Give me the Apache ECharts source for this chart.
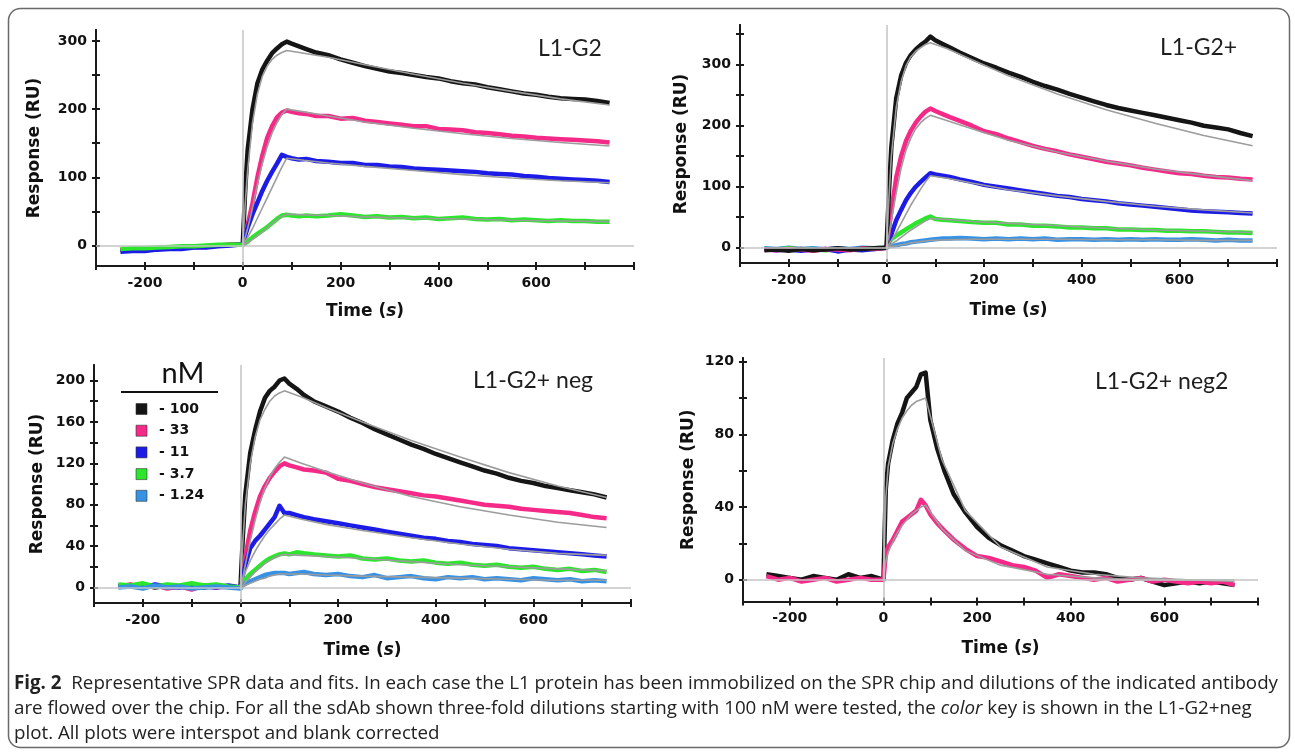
<!DOCTYPE html>
<html lang="en">
<head>
<meta charset="UTF-8">
<title>SPR sensorgrams</title>
<script src="https://cdn.jsdelivr.net/npm/echarts@6/dist/echarts.min.js"></script>
<style>
  html, body { margin: 0; padding: 0; background: #fff; }
  #main { width: 1295px; height: 756px; }
</style>
</head>
<body>
<div id="main"></div>
<script>
// time grid of the measured traces (s) and of the fitted curves
var T = [-250,-225,-200,-175,-150,-125,-100,-75,-50,-25,
         0,5,10,20,30,40,50,60,70,80,90,
         100,115,130,
         150,175,200,225,250,275,300,325,350,375,400,425,450,475,500,525,550,575,600,625,650,675,700,725,750];
var TF = [0,5,10,20,30,40,50,60,70,80,90,125,175,250,350,450,550,650,750];

var timeTicks = [-300,-200,-100,0,100,200,300,400,500,600,700,800];
var timeLabels = [-200,0,200,400,600];

// L1-G2
var l1g2_100 = [-7,-6,-6,-4,-4,-3,-2,-1,0,1, 1,80,140,200,238,258,271,282,289,295,299, 296,292,288,
  283,279,273,268,263,259,255,253,250,247,245,241,238,236,232,229,226,223,221,218,216,215,214,212,209];
var l1g2_33 = [-6,-5,-6,-4,-3,-3,-2,-2,0,1, 1,15,30,62,100,132,158,175,188,195,198, 196,194,193,
  190,190,186,187,183,181,179,177,175,175,171,170,169,166,165,163,161,160,158,157,156,155,154,153,151];
var l1g2_11 = [-9,-8,-8,-6,-5,-5,-3,-3,-1,0, 2,15,26,46,63,80,95,108,120,133,130, 128,126,127,
  124,123,121,121,118,118,116,115,113,112,111,110,109,108,106,105,104,102,101,99,98,97,96,95,93];
var l1g2_3_7 = [-5,-4,-4,-3,-2,-1,-1,0,1,1, 1,3,6,12,17,22,27,33,39,44,45, 44,43,44,
  43,44,46,44,42,43,41,42,40,41,39,40,41,39,38,39,37,38,37,36,37,36,36,35,35];
var l1g2_100_fit = [0,60,110,180,222,248,263,273,279,283,286,282,276,265,251,238,226,215,206];
var l1g2_33_fit = [0,12,25,55,90,120,145,165,180,192,200,196,190,181,172,164,157,151,146];
var l1g2_11_fit = [0,6,12,25,40,55,70,85,100,115,128,125,121,116,110,104,99,95,92];
var l1g2_3_7_fit = [0,2,4,9,14,20,26,32,38,43,46,45,44,42,40,39,37,36,35];

// L1-G2+
var l1g2p_100 = [-4,-3,-5,-2,-4,-3,-1,-3,-2,-1, 0,90,165,245,282,303,316,325,332,338,346, 340,334,328,
  320,311,302,295,287,280,272,265,259,252,246,240,234,229,225,221,217,213,209,205,200,197,194,188,183];
var l1g2p_33 = [-3,-4,-2,-3,-5,-2,-3,-4,-1,-2, 0,30,60,115,150,175,192,205,215,223,228, 224,219,214,
  208,200,191,186,179,173,167,162,158,153,149,145,141,138,135,131,128,125,122,121,118,116,115,113,112];
var l1g2p_11 = [-2,-4,-3,-5,-3,-2,-6,-3,-4,-2, 0,10,22,45,62,78,90,100,108,115,122, 120,118,116,
  112,108,103,100,97,94,91,88,85,83,80,78,76,73,71,69,67,65,63,61,60,59,58,57,56];
var l1g2p_3_7 = [-2,-3,-1,-3,-2,-4,-2,-3,-2,-1, 0,8,14,20,25,30,35,40,44,48,51, 47,46,45,
  44,42,41,41,38,38,36,36,35,33,33,32,32,30,30,29,29,28,28,27,27,26,25,25,24];
var l1g2p_1_24 = [-1,-2,0,-2,-1,-3,-1,-2,0,-1, 0,2,3,4,6,7,9,10,11,12,13, 14,15,15,
  16,15,14,15,14,15,14,15,13,14,14,13,14,13,14,13,14,13,13,14,13,12,13,12,12];
var l1g2p_100_fit = [0,80,150,230,272,298,313,322,328,333,336,326,308,282,252,226,204,184,167];
var l1g2p_33_fit = [0,20,45,90,130,160,180,195,205,212,217,208,195,176,157,142,129,119,110];
var l1g2p_11_fit = [0,6,12,25,40,55,70,83,96,108,118,114,106,95,85,76,68,62,57];
var l1g2p_3_7_fit = [0,3,6,11,17,23,29,34,39,44,48,46,43,40,36,32,29,27,25];
var l1g2p_1_24_fit = [0,1,2,3,5,6,8,9,10,11,12,13,14,14,14,13,13,12,12];

// L1-G2+ neg
var neg_100 = [2,1,3,0,2,1,3,0,2,1, 0,50,90,130,152,170,183,190,194,200,202, 197,192,186,
  180,175,170,164,159,153,148,143,138,134,129,125,121,117,113,110,106,103,101,98,96,94,92,90,87];
var neg_33 = [1,3,0,2,-1,1,-2,2,0,1, 0,15,30,55,73,88,98,106,112,117,120, 118,116,114,
  113,111,105,103,100,97,95,93,91,89,88,86,84,82,80,79,78,76,75,74,73,72,70,68,67];
var neg_11 = [1,2,0,3,1,0,2,1,0,2, 0,12,22,38,45,50,56,62,68,79,72, 72,70,68,
  66,64,62,60,58,56,54,52,50,48,47,45,44,42,41,40,38,37,36,35,34,33,32,31,30];
var neg_3_7 = [3,2,4,1,3,2,4,2,3,1, 0,4,8,13,17,21,25,28,30,32,33, 32,34,33,
  32,31,30,31,28,27,28,26,25,26,24,23,24,22,21,22,20,19,20,18,17,18,16,17,15];
var neg_1_24 = [0,1,-1,2,0,1,-1,0,1,0, -1,2,4,6,8,10,12,13,14,14,14, 13,14,15,
  13,12,13,11,10,12,9,10,11,9,8,10,9,10,8,9,8,7,9,8,7,8,6,7,6];
var neg_100_fit = [0,45,80,120,145,162,172,180,185,188,190,184,174,160,142,126,111,98,87];
var neg_33_fit = [0,10,22,45,65,82,96,107,115,121,126,120,112,101,88,78,70,63,58];
var neg_11_fit = [0,8,15,26,35,43,50,56,61,66,70,66,61,55,48,42,37,33,31];
var neg_3_7_fit = [0,2,5,10,15,19,23,26,29,31,32,31,30,28,25,22,20,18,16];
var neg_1_24_fit = [0,1,2,4,6,8,9,11,12,13,13,13,12,11,10,9,8,7,7];

// L1-G2+ neg2
var neg2_100 = [3,2,1,0,2,1,0,3,1,2, 0,50,64,77,86,92,100,103,106,113,114, 88,72,60,
  47,37,29,23,19,16,13,11,9,7,5,4,4,3,1,0,1,-1,-3,-2,-1,-2,-1,-2,-3];
var neg2_33 = [2,0,1,-1,0,1,-1,0,1,0, 0,14,18,22,27,32,34,36,38,44,41, 36,31,27,
  22,17,13,12,10,8,7,5,1,3,2,1,0,1,-1,0,1,-1,0,-1,-2,-1,-2,-1,-3];
var neg2_100_fit = [0,45,62,75,83,89,93,96,98,99,100,66,38,18,7,3,1,0,0];
var neg2_33_fit = [0,10,15,21,26,30,33,36,38,40,41,28,16,8,3,1,0,0,-1];

// y ticks / labels of the four panels
var p1Ticks = [0,50,100,150,200,250,300], p1Labels = [0,100,200,300];
var p2Ticks = [0,50,100,150,200,250,300,350], p2Labels = [0,100,200,300];
var p3Ticks = [0,20,40,60,80,100,120,140,160,180,200], p3Labels = [0,40,80,120,160,200];
var p4Ticks = [0,20,40,60,80,100,120], p4Labels = [0,40,80,120];

var concentrations = ['100', '33', '11', '3.7', '1.24'];
var colors = {'100': '#151515', '33': '#f52a88', '11': '#1c1ce6', '3.7': '#2ce62c', '1.24': '#3792e6'};

var panels = [
  {title: 'L1-G2', tx: 538, ty: 49, grid: {left: 96, top: 30, width: 538, height: 236},
   yMin: -30, yMax: 316, ticks: p1Ticks, labels: p1Labels, yGap: 53, xGap: 37,
   curves: [['100', l1g2_100, l1g2_100_fit], ['33', l1g2_33, l1g2_33_fit], ['11', l1g2_11, l1g2_11_fit], ['3.7', l1g2_3_7, l1g2_3_7_fit]]},
  {title: 'L1-G2+', tx: 1160, ty: 48, grid: {left: 740, top: 25, width: 537, height: 238},
   yMin: -25, yMax: 365, ticks: p2Ticks, labels: p2Labels, yGap: 50, xGap: 39,
   curves: [['1.24', l1g2p_1_24, l1g2p_1_24_fit], ['3.7', l1g2p_3_7, l1g2p_3_7_fit], ['11', l1g2p_11, l1g2p_11_fit], ['33', l1g2p_33, l1g2p_33_fit], ['100', l1g2p_100, l1g2p_100_fit]]},
  {title: 'L1-G2+ neg', tx: 473, ty: 381, grid: {left: 94, top: 365, width: 537, height: 238},
   yMin: -15, yMax: 215, ticks: p3Ticks, labels: p3Labels, yGap: 48, xGap: 39,
   curves: [['100', neg_100, neg_100_fit], ['33', neg_33, neg_33_fit], ['11', neg_11, neg_11_fit], ['3.7', neg_3_7, neg_3_7_fit], ['1.24', neg_1_24, neg_1_24_fit]]},
  {title: 'L1-G2+ neg2', tx: 1095, ty: 382, grid: {left: 743, top: 358, width: 515, height: 243.5},
   yMin: -12, yMax: 122, ticks: p4Ticks, labels: p4Labels, yGap: 46, xGap: 39,
   curves: [['100', neg2_100, neg2_100_fit], ['33', neg2_33, neg2_33_fit]]}
];

function toXY(t, v) {
  var out = [];
  for (var i = 0; i < t.length; i++) out.push([t[i], v[i]]);
  return out;
}

var axisColor = '#1a1a1a';
var labelFont = {color: '#111', fontFamily: 'DejaVu Sans', fontWeight: 'bold', fontSize: 14};
var nameFont = {fontFamily: 'DejaVu Sans', fontWeight: 'bold', fontSize: 17, color: '#111'};

var grids = [], xAxes = [], yAxes = [], series = [], graphics = [];

panels.forEach(function (p, i) {
  grids.push(p.grid);
  var lineSt = {color: axisColor, width: 2};
  // outer ticks + labels
  xAxes.push({
    type: 'value', gridIndex: i, min: -300, max: 800, position: 'bottom',
    axisLine: {onZero: false, lineStyle: lineSt},
    axisTick: {customValues: timeTicks, length: 4, lineStyle: lineSt},
    axisLabel: Object.assign({customValues: timeLabels, margin: 10}, labelFont),
    splitLine: {show: false},
    name: '{a|Time (}{b|s}{a|)}', nameLocation: 'middle', nameGap: p.xGap,
    nameTextStyle: {rich: {a: nameFont, b: Object.assign({fontStyle: 'italic'}, nameFont)}}
  });
  // inner ticks so they cross the axis line
  xAxes.push({
    type: 'value', gridIndex: i, min: -300, max: 800, position: 'bottom',
    axisLine: {onZero: false, lineStyle: lineSt},
    axisTick: {inside: true, customValues: timeTicks, length: 4, lineStyle: lineSt},
    axisLabel: {show: false}, splitLine: {show: false}
  });
  yAxes.push({
    type: 'value', gridIndex: i, min: p.yMin, max: p.yMax, position: 'left',
    axisLine: {onZero: false, lineStyle: lineSt},
    axisTick: {customValues: p.ticks, length: 4, lineStyle: lineSt},
    axisLabel: Object.assign({customValues: p.labels, margin: 9}, labelFont),
    splitLine: {show: false},
    name: 'Response (RU)', nameLocation: 'middle', nameGap: p.yGap, nameTextStyle: nameFont
  });
  yAxes.push({
    type: 'value', gridIndex: i, min: p.yMin, max: p.yMax, position: 'left',
    axisLine: {onZero: false, lineStyle: lineSt},
    axisTick: {inside: true, customValues: p.ticks, length: 4, lineStyle: lineSt},
    axisLabel: {show: false}, splitLine: {show: false}
  });

  // gray zero lines
  series.push({
    type: 'line', xAxisIndex: 2 * i, yAxisIndex: 2 * i, data: [[0, 0]], showSymbol: false, z: 1,
    lineStyle: {opacity: 0},
    markLine: {silent: true, symbol: 'none', label: {show: false},
      lineStyle: {color: '#c4c4c4', width: 1.5, type: 'solid'},
      data: [{xAxis: 0}, {yAxis: 0}]}
  });
  p.curves.forEach(function (c) {
    series.push({
      type: 'line', name: c[0] + ' nM', xAxisIndex: 2 * i, yAxisIndex: 2 * i,
      data: toXY(T, c[1]), showSymbol: false, z: 2,
      lineStyle: {color: colors[c[0]], width: 4.5, join: 'round'}
    });
  });
  p.curves.forEach(function (c) {
    series.push({
      type: 'line', xAxisIndex: 2 * i, yAxisIndex: 2 * i,
      data: toXY(TF, c[2]), showSymbol: false, z: 3,
      lineStyle: {color: '#9c9c9c', width: 1.6}
    });
  });

  graphics.push({
    type: 'text', x: p.tx, y: p.ty,
    style: {text: p.title, fontFamily: 'Lato', fontSize: 23, fill: '#1e1e1e', align: 'left', verticalAlign: 'middle'}
  });
});

// concentration key (L1-G2+ neg panel)
graphics.push({type: 'text', x: 183, y: 374,
  style: {text: 'nM', fontFamily: 'Lato', fontSize: 29, fill: '#111', align: 'center', verticalAlign: 'middle'}});
graphics.push({type: 'line', shape: {x1: 121, y1: 392, x2: 218, y2: 392}, style: {stroke: '#111', lineWidth: 2}});
concentrations.forEach(function (c, k) {
  var y = 409 + k * 21.7;
  graphics.push({type: 'rect', shape: {x: 136, y: y - 5.5, width: 11, height: 11},
    style: {fill: colors[c], stroke: '#333', lineWidth: 0.6}});
  graphics.push({type: 'text', x: 159, y: y,
    style: {text: '- ' + c, fontFamily: 'DejaVu Sans', fontWeight: 'bold', fontSize: 14, fill: '#111', verticalAlign: 'middle'}});
});

// frame
graphics.push({type: 'rect', shape: {x: 8.5, y: 8.5, width: 1281, height: 739, r: 12},
  style: {fill: 'none', stroke: '#6a6a6a', lineWidth: 1.5}, z: -1});

// caption
var cap1 = '  Representative SPR data and fits. In each case the L1 protein has been immobilized on the SPR chip and dilutions of the indicated antibody';
var cap2a = 'are flowed over the chip. For all the sdAb shown three-fold dilutions starting with 100 nM were tested, the ';
var cap2b = ' key is shown in the L1-G2+neg';
var cap3 = 'plot. All plots were interspot and blank corrected';
var capFamily = '"Open Sans"';
var capSize = 19;
var ctx = document.createElement('canvas').getContext('2d');
function textW(str, font) { ctx.font = font; return ctx.measureText(str).width; }
var w1 = textW('Fig. 2', 'bold ' + capSize + 'px ' + capFamily) + textW(cap1, capSize + 'px ' + capFamily);
var capScale = 1264 / w1;
var capRich = {b: {fontWeight: 'bold', fontFamily: 'Open Sans', fontSize: capSize, fill: '#222'},
               i: {fontStyle: 'italic', fontFamily: 'Open Sans', fontSize: capSize, fill: '#222'}};
[['{b|Fig. 2}' + cap1, 684], [cap2a + '{i|color}' + cap2b, 709], [cap3, 734]].forEach(function (l) {
  graphics.push({type: 'text', x: 14, y: l[1], scaleX: capScale,
    style: {text: l[0], rich: capRich, fontFamily: 'Open Sans', fontSize: capSize, fill: '#222', verticalAlign: 'middle'}});
});

var myChart = echarts.init(document.getElementById('main'));
var option = {
  animation: false,
  backgroundColor: '#fff',
  grid: grids,
  xAxis: xAxes,
  yAxis: yAxes,
  series: series,
  graphic: graphics
};
myChart.setOption(option);
</script>
</body>
</html>
